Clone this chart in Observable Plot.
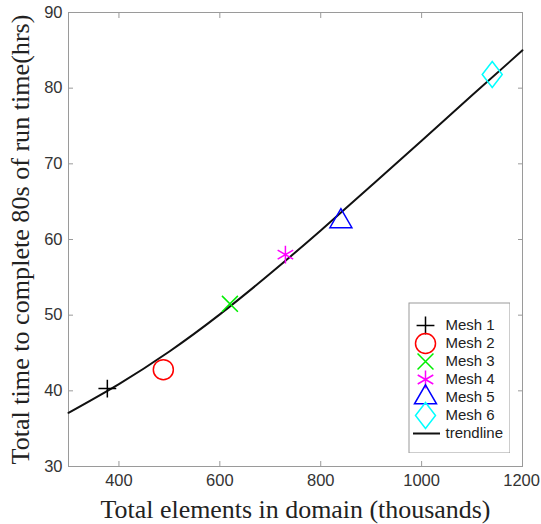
<!DOCTYPE html>
<html><head><meta charset="utf-8">
<script src="https://cdn.jsdelivr.net/npm/d3@7"></script>
<script src="https://cdn.jsdelivr.net/npm/@observablehq/plot@0.6"></script>
<style>
body{margin:0;background:#fff}
#wrap{position:relative;width:541px;height:524px}
#legend{position:absolute;left:408px;top:302px}
</style>
</head><body>
<div id="wrap"><div id="chart"></div><div id="legend"></div></div>
<script>
const meshes = ["Mesh 1", "Mesh 2", "Mesh 3", "Mesh 4", "Mesh 5", "Mesh 6"];
const elements = [377, 488, 620, 730, 840, 1140];
const hours = [40.3, 42.8, 51.5, 58.0, 62.4, 81.8];
const trendX = [300, 400, 500, 600, 700, 800, 900, 1000, 1100, 1200];
const trendY = [37.1, 40.9, 45.2, 50.1, 55.5, 61.2, 67.1, 73.05, 79.05, 85.0];
const trendName = "trendline";
const xTicks = [400, 600, 800, 1000, 1200];
const yTicks = [30, 40, 50, 60, 70, 80, 90];
const xLabel = "Total elements in domain (thousands)";
const yLabel = "Total time to complete 80s of run time(hrs)";

const points = meshes.map((m, i) => ({mesh: m, x: elements[i], y: hours[i]}));
const trend = trendX.map((x, i) => ({x, y: trendY[i]}));

const diamondTall = {
  draw(ctx, size) {
    const r = Math.sqrt(size / Math.PI);
    ctx.moveTo(0, -1.3 * r); ctx.lineTo(r, 0); ctx.lineTo(0, 1.3 * r); ctx.lineTo(-r, 0); ctx.closePath();
  }
};
const markerStyle = [
  {symbol: "plus", stroke: "#000000", r: 5.8},
  {symbol: "circle", stroke: "#ff0000", r: 10},
  {symbol: "times", stroke: "#00ee00", r: 7.3},
  {symbol: "asterisk", stroke: "#ff00ff", r: 8.5},
  {symbol: "triangle2", stroke: "#0000ff", r: 10.5},
  {symbol: diamondTall, stroke: "#00ffff", r: 10}
];
const gray = "#9a9a9a";
const sans = "'Liberation Sans', Arial, Helvetica, sans-serif";
const fmt = d3.format("d");

const chart = Plot.plot({
  width: 541, height: 524,
  marginLeft: 68, marginRight: 19, marginTop: 12, marginBottom: 58,
  style: {fontFamily: sans, fontSize: "16.5px", color: "#333", background: "#fff"},
  x: {domain: [300, 1200]},
  y: {domain: [30, 90]},
  marks: [
    Plot.frame({stroke: gray}),
    Plot.axisX({ticks: xTicks, anchor: "bottom", tickSize: -5, stroke: gray, tickFormat: () => "", label: null}),
    Plot.axisX({ticks: xTicks, anchor: "top", tickSize: -5, stroke: gray, tickFormat: () => "", label: null}),
    Plot.axisY({ticks: yTicks, anchor: "left", tickSize: -5, stroke: gray, tickFormat: () => "", label: null}),
    Plot.axisY({ticks: yTicks, anchor: "right", tickSize: -5, stroke: gray, tickFormat: () => "", label: null}),
    Plot.axisX({ticks: xTicks, anchor: "bottom", tickSize: 0, tickPadding: 8, fill: "#333", tickFormat: fmt,
      label: xLabel, labelAnchor: "center", labelOffset: 51, labelArrow: "none"}),
    Plot.axisY({ticks: yTicks, anchor: "left", tickSize: 0, tickPadding: 6, fill: "#333", tickFormat: fmt,
      label: yLabel, labelAnchor: "center", labelOffset: 58, labelArrow: "none"}),
    Plot.line(trend, {x: "x", y: "y", curve: "natural", stroke: "#111", strokeWidth: 2}),
    ...points.map((p, i) => Plot.dot([p], {x: "x", y: "y", fill: "none", strokeWidth: 1.5, ...markerStyle[i]}))
  ]
});
document.getElementById("chart").appendChild(chart);

function fitLabel(sel, target) {
  const g = chart.querySelector(sel);
  if (!g) return;
  g.setAttribute("font-family", "'Liberation Serif', 'Times New Roman', serif");
  g.setAttribute("fill", "#222");
  const t = g.querySelector("text");
  if (!t) return;
  t.setAttribute("font-size", 20);
  const len = t.getComputedTextLength();
  if (len > 0) t.setAttribute("font-size", (20 * target / len).toFixed(2));
}
fitLabel('[aria-label="x-axis label"]', 390);
fitLabel('[aria-label="y-axis label"]', 450);

// keep the last x tick label inside the picture
chart.querySelectorAll('[aria-label="x-axis tick label"] text').forEach(t => {
  const b = t.getBBox();
  const m = t.getCTM();
  const right = m ? m.e + b.x + b.width : b.x + b.width;
  if (right > 540) t.setAttribute("dx", (540 - right).toFixed(1));
});

const legendItems = [...meshes, trendName];
const legend = Plot.plot({
  width: 102, height: 151, margin: 0,
  style: {fontFamily: sans, background: "transparent"},
  x: {axis: null, domain: [0, 1]},
  y: {axis: null, type: "point", domain: legendItems, range: [13, 141]},
  marks: [
    Plot.frame({stroke: gray, fill: "#fff", inset: 0.5}),
    ...meshes.map((m, i) => Plot.dot([m], {y: d => d, frameAnchor: "left", dx: 17, fill: "none", strokeWidth: 1.5, ...markerStyle[i]})),
    Plot.ruleY([trendName], {y: d => d, insetLeft: 5, insetRight: 70, stroke: "#111", strokeWidth: 2}),
    Plot.text(legendItems, {y: d => d, text: d => d, frameAnchor: "left", dx: 37, textAnchor: "start", fontSize: 15, fill: "#222"})
  ]
});
document.getElementById("legend").appendChild(legend);
</script>
</body></html>
